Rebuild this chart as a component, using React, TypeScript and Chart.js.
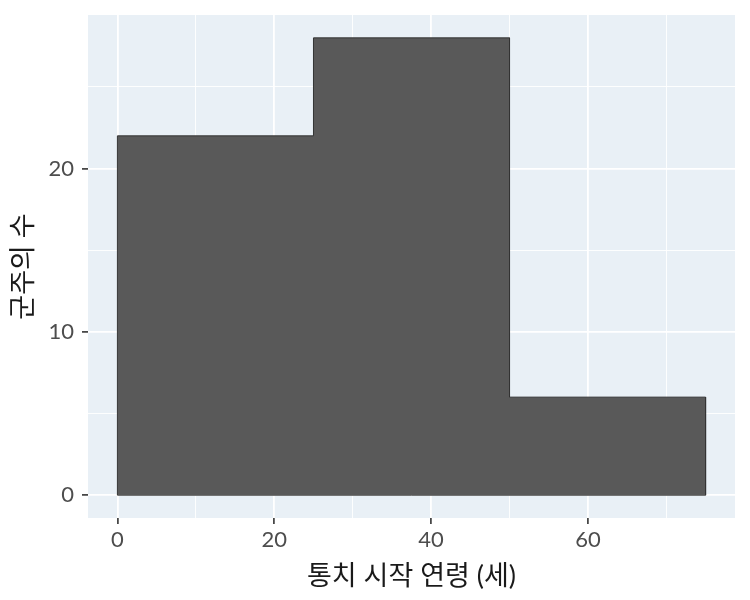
/**
 * Histogram of reign start ages — ggplot-style panel drawn with Chart.js.
 */

import { useEffect, useRef } from 'react';
import { Chart, registerables } from 'chart.js';

Chart.register(...registerables);

const binEdges = [0, 25, 50, 75];
const binCounts = [22, 28, 6];
const xMajor = [0, 20, 40, 60];
const xMinor = [10, 30, 50, 70];
const yMajor = [0, 10, 20];
const yMinor = [5, 15, 25];
const xTitle = '통치 시작 연령 (세)';
const yTitle = '군주의 수';

const PANEL_BG = '#e9f0f6';
const BAR_FILL = '#595959';
const BAR_LINE = '#333333';
const FONT = "Lato, 'Noto Sans CJK KR', sans-serif";

const xMin = -3.75;
const xMax = 78.75;
const yMin = -1.4;
const yMax = 29.4;

function sortedTicks(major: number[], minor: number[]) {
  return [...major, ...minor].sort((a, b) => a - b).map(v => ({ value: v }));
}

export default function App(): JSX.Element {
  const canvasRef = useRef<HTMLCanvasElement>(null);
  const chartRef = useRef<Chart | null>(null);

  useEffect(() => {
    if (!canvasRef.current) return;
    if (chartRef.current) chartRef.current.destroy();

    // histogram outline: step along the bin tops, from y = 0 back to y = 0
    const outline: { x: number; y: number }[] = [{ x: binEdges[0], y: 0 }];
    binCounts.forEach((c, i) => {
      outline.push({ x: binEdges[i], y: c }, { x: binEdges[i + 1], y: c });
    });
    outline.push({ x: binEdges[binEdges.length - 1], y: 0 });
    const baseline = [
      { x: binEdges[0], y: 0 },
      { x: binEdges[binEdges.length - 1], y: 0 },
    ];

    const panelPlugin = {
      id: 'panelBg',
      beforeDraw(chart: Chart): void {
        const { ctx, chartArea } = chart;
        ctx.save();
        ctx.fillStyle = PANEL_BG;
        ctx.fillRect(chartArea.left, chartArea.top, chartArea.right - chartArea.left, chartArea.bottom - chartArea.top);
        ctx.restore();
      },
    };

    const gridFor = (major: number[]) => ({
      offset: false,
      color: '#ffffff',
      lineWidth: (c: any) => (major.includes(c.tick?.value) ? 1.8 : 0.9),
      tickColor: (c: any) => (major.includes(c.tick?.value) ? '#333333' : 'rgba(0,0,0,0)'),
      tickWidth: 1.6,
      tickLength: 6,
      drawTicks: true,
    });

    chartRef.current = new Chart(canvasRef.current, {
      type: 'line',
      plugins: [panelPlugin],
      data: {
        datasets: [
          {
            data: outline,
            borderColor: BAR_LINE,
            backgroundColor: BAR_FILL,
            borderWidth: 1,
            pointRadius: 0,
            fill: 'origin',
            tension: 0,
          },
          {
            data: baseline,
            borderColor: BAR_LINE,
            borderWidth: 1,
            pointRadius: 0,
            fill: false,
          },
        ],
      },
      options: {
        responsive: true,
        maintainAspectRatio: false,
        animation: false,
        events: [],
        layout: { padding: { top: 15, right: 15, left: 0, bottom: 0 } },
        plugins: {
          legend: { display: false },
          tooltip: { enabled: false },
        },
        scales: {
          x: {
            type: 'linear',
            offset: false,
            min: xMin,
            max: xMax,
            afterBuildTicks: (s: any) => { s.ticks = sortedTicks(xMajor, xMinor); },
            afterFit: (s: any) => { s.height = 82; s.paddingLeft = 0; s.paddingRight = 0; },
            border: { display: false },
            grid: gridFor(xMajor),
            ticks: {
              autoSkip: false,
              maxRotation: 0,
              padding: 3,
              color: '#4d4d4d',
              font: { family: FONT, size: 22 },
              callback: (v: any) => (xMajor.includes(Number(v)) ? String(v) : ''),
            },
            title: {
              display: true,
              text: xTitle,
              color: '#1a1a1a',
              font: { family: FONT, size: 27 },
              padding: { top: 0, bottom: 8 },
            },
          },
          y: {
            type: 'linear',
            min: yMin,
            max: yMax,
            afterBuildTicks: (s: any) => { s.ticks = sortedTicks(yMajor, yMinor); },
            afterFit: (s: any) => { s.width = 88; s.paddingTop = 0; s.paddingBottom = 0; },
            border: { display: false },
            grid: gridFor(yMajor),
            ticks: {
              autoSkip: false,
              padding: 8,
              color: '#4d4d4d',
              font: { family: FONT, size: 22 },
              callback: (v: any) => (yMajor.includes(Number(v)) ? String(v) : ''),
            },
            title: {
              display: true,
              text: yTitle,
              color: '#1a1a1a',
              font: { family: FONT, size: 27 },
              padding: { top: 7, bottom: 0 },
            },
          },
        },
      },
    });

    return () => { chartRef.current?.destroy(); chartRef.current = null; };
  }, []);

  return (
    <div style={{ position: 'absolute', left: 0, top: 0, width: '750px', height: '600px', background: '#fff' }}>
      <canvas ref={canvasRef} role="img" aria-label="군주의 통치 시작 연령 히스토그램" />
    </div>
  );
}
